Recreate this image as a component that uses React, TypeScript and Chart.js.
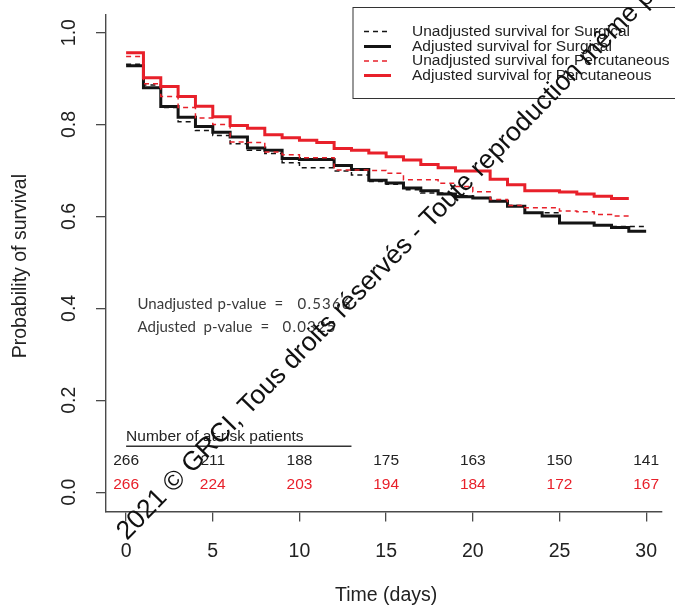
import React, { useEffect, useRef } from 'react';
import { Chart, registerables } from 'chart.js';

Chart.register(...registerables);

// ---- Data ----
const stepDays = [0, 1, 2, 3, 4, 5, 6, 7, 8, 9, 10, 11, 12, 13, 14, 15, 16, 17, 18, 19, 20, 21, 22, 23, 24, 25, 26, 27, 28, 29];

const surgicalUnadjusted = [
  0.931, 0.886, 0.837, 0.806, 0.787, 0.776, 0.758, 0.744, 0.737, 0.717,
  0.706, 0.706, 0.699, 0.690, 0.676, 0.670, 0.658, 0.651, 0.651, 0.645,
  0.640, 0.634, 0.624, 0.608, 0.608, 0.586, 0.586, 0.581, 0.578, 0.578,
];
const surgicalAdjusted = [
  0.928, 0.880, 0.839, 0.816, 0.796, 0.783, 0.773, 0.749, 0.744, 0.726,
  0.724, 0.724, 0.711, 0.702, 0.679, 0.673, 0.662, 0.656, 0.649, 0.643,
  0.640, 0.633, 0.622, 0.608, 0.601, 0.586, 0.586, 0.581, 0.576, 0.568,
];
const percutaneousUnadjusted = [
  0.948, 0.889, 0.861, 0.837, 0.814, 0.800, 0.762, 0.761, 0.740, 0.734,
  0.728, 0.728, 0.701, 0.701, 0.700, 0.694, 0.680, 0.680, 0.672, 0.665,
  0.654, 0.637, 0.624, 0.619, 0.619, 0.612, 0.610, 0.604, 0.601,
];
const percutaneousAdjusted = [
  0.956, 0.902, 0.883, 0.861, 0.840, 0.817, 0.798, 0.792, 0.778, 0.771,
  0.766, 0.761, 0.748, 0.744, 0.738, 0.730, 0.723, 0.713, 0.706, 0.699,
  0.699, 0.681, 0.669, 0.656, 0.656, 0.653, 0.649, 0.644, 0.639,
];
const surgicalEndDay = 30;
const percutaneousEndDay = 29;

const riskDays = [0, 5, 10, 15, 20, 25, 30];
const riskSurgical = [266, 211, 188, 175, 163, 150, 141];
const riskPercutaneous = [266, 224, 203, 194, 184, 172, 167];

const xTickValues = [0, 5, 10, 15, 20, 25, 30];
const yTickValues = [0, 0.2, 0.4, 0.6, 0.8, 1.0];

const legendLabels = [
  'Unadjusted survival for Surgical',
  'Adjusted survival for Surgical',
  'Unadjusted survival for Percutaneous',
  'Adjusted survival for Percutaneous',
];
const pValueLabels = ['Unadjusted', 'Adjusted'];
const pValues = ['0.5366', '0.0325'];
const watermarkText = '2021 \u00A9 GRCI, Tous droits r\u00E9serv\u00E9s - Toute reproduction m\u00EAme partielle interdite';

// ---- Styles ----
const BLACK = '#141414';
const RED = '#e8202a';
const AXIS = '#4a4a4a';
const TEXT = '#222222';
const FONT = '"Liberation Sans", Arial, sans-serif';

function stepData(values: number[], endDay: number) {
  const pts = values.map((v, i) => ({ x: stepDays[i], y: v }));
  pts.push({ x: endDay, y: values[values.length - 1] });
  return pts;
}

const overlayPlugin = {
  id: 'overlay',
  afterDraw(chart: any) {
    const { ctx, chartArea } = chart;
    const xs = chart.scales.x;
    const ys = chart.scales.y;
    ctx.save();

    // y tick labels (rotated, R style)
    ctx.fillStyle = TEXT;
    ctx.font = `19.5px ${FONT}`;
    ctx.textAlign = 'center';
    ctx.textBaseline = 'middle';
    for (const t of ys.ticks) {
      const py = ys.getPixelForValue(t.value);
      ctx.save();
      ctx.translate(70, py);
      ctx.rotate(-Math.PI / 2);
      ctx.fillText(Number(t.value).toFixed(1), 0, 0);
      ctx.restore();
    }

    // axis titles
    ctx.save();
    ctx.translate(21, (chartArea.top + chartArea.bottom) / 2 + 3);
    ctx.rotate(-Math.PI / 2);
    ctx.fillText('Probability of survival', 0, 0);
    ctx.restore();
    ctx.fillText('Time (days)', (xs.getPixelForValue(0) + xs.getPixelForValue(30)) / 2, 596);

    // at-risk table
    ctx.font = `15.5px ${FONT}`;
    ctx.textAlign = 'left';
    const x0 = xs.getPixelForValue(0);
    ctx.fillText('Number of at-risk patients', x0, ys.getPixelForValue(0.120));
    ctx.strokeStyle = '#333';
    ctx.lineWidth = 1.6;
    ctx.beginPath();
    const uy = ys.getPixelForValue(0.1);
    ctx.moveTo(x0, uy);
    ctx.lineTo(xs.getPixelForValue(13), uy);
    ctx.stroke();
    ctx.textAlign = 'center';
    riskDays.forEach((d, i) => {
      const px = xs.getPixelForValue(d);
      ctx.fillStyle = TEXT;
      ctx.fillText(String(riskSurgical[i]), px, ys.getPixelForValue(0.069));
      ctx.fillStyle = RED;
      ctx.fillText(String(riskPercutaneous[i]), px, ys.getPixelForValue(0.017));
    });

    // p-values (spaced like the reference text box)
    ctx.save();
    ctx.fillStyle = '#3a3a3a';
    ctx.font = `15px Lato, "Open Sans", sans-serif`;
    ctx.textAlign = 'left';
    ctx.textBaseline = 'middle';
    const pRows = [
      { y: 304, label: pValueLabels[0], offs: [0, 80, 137, 160] },
      { y: 327, label: pValueLabels[1], offs: [0, 66, 123, 145] },
    ];
    pRows.forEach((r, i) => {
      const left = 137.5;
      ctx.fillText(r.label, left + r.offs[0], r.y);
      ctx.fillText('p-value', left + r.offs[1], r.y);
      ctx.fillText('=', left + r.offs[2], r.y);
      let cx = left + r.offs[3];
      for (const ch of pValues[i]) {
        ctx.fillText(ch, cx, r.y);
        cx += ctx.measureText(ch).width + 1.2;
      }
    });
    ctx.restore();

    // legend
    const boxL = 353, boxT = 7.5, boxB = 98.5;
    ctx.fillStyle = '#ffffff';
    ctx.fillRect(boxL, boxT, 700 - boxL, boxB - boxT);
    ctx.strokeStyle = '#333';
    ctx.lineWidth = 1;
    ctx.strokeRect(boxL, boxT, 700 - boxL, boxB - boxT);
    const rowY = [31.5, 46.5, 61, 75.5];
    const styles = [
      { color: BLACK, width: 1.5, dash: [5, 4] },
      { color: BLACK, width: 3, dash: [] as number[] },
      { color: RED, width: 1.5, dash: [5, 4] },
      { color: RED, width: 3, dash: [] as number[] },
    ];
    ctx.font = `15.5px ${FONT}`;
    ctx.textAlign = 'left';
    ctx.textBaseline = 'middle';
    legendLabels.forEach((lab, i) => {
      const st = styles[i];
      ctx.strokeStyle = st.color;
      ctx.lineWidth = st.width;
      ctx.setLineDash(st.dash);
      ctx.beginPath();
      ctx.moveTo(364, rowY[i]);
      ctx.lineTo(391, rowY[i]);
      ctx.stroke();
      ctx.setLineDash([]);
      ctx.fillStyle = TEXT;
      ctx.fillText(lab, 412, rowY[i]);
    });

    // watermark
    ctx.save();
    ctx.translate(127, 541);
    ctx.rotate((-45.8 * Math.PI) / 180);
    ctx.fillStyle = '#111';
    ctx.font = `26.5px ${FONT}`;
    ctx.textAlign = 'left';
    ctx.textBaseline = 'alphabetic';
    ctx.fillText(watermarkText, 0, 0);
    ctx.restore();

    ctx.restore();
  },
};

export default function App() {
  const canvasRef = useRef<HTMLCanvasElement | null>(null);

  useEffect(() => {
    if (!canvasRef.current) return;
    const chart = new Chart(canvasRef.current, {
      type: 'line',
      data: {
        datasets: [
          {
            label: legendLabels[3],
            data: stepData(percutaneousAdjusted, percutaneousEndDay),
            borderColor: RED,
            borderWidth: 3,
            stepped: true,
            pointRadius: 0,
            fill: false,
          },
          {
            label: legendLabels[2],
            data: stepData(percutaneousUnadjusted, percutaneousEndDay),
            borderColor: RED,
            borderWidth: 1.5,
            borderDash: [5, 4],
            stepped: true,
            pointRadius: 0,
            fill: false,
          },
          {
            label: legendLabels[1],
            data: stepData(surgicalAdjusted, surgicalEndDay),
            borderColor: BLACK,
            borderWidth: 3,
            stepped: true,
            pointRadius: 0,
            fill: false,
          },
          {
            label: legendLabels[0],
            data: stepData(surgicalUnadjusted, surgicalEndDay),
            borderColor: BLACK,
            borderWidth: 1.5,
            borderDash: [5, 4],
            stepped: true,
            pointRadius: 0,
            fill: false,
          },
        ],
      },
      options: {
        responsive: false,
        animation: false,
        layout: { padding: { top: 8, left: 0, right: 0, bottom: 0 } },
        plugins: { legend: { display: false }, tooltip: { enabled: false } },
        scales: {
          x: {
            type: 'linear',
            min: -1.16,
            max: 30.9,
            afterBuildTicks: (scale: any) => {
              scale.ticks = xTickValues.map((v) => ({ value: v }));
            },
            afterFit: (scale: any) => {
              scale.height = 98.5;
            },
            grid: { drawOnChartArea: false, drawTicks: true, tickLength: 10, color: AXIS, lineWidth: 1.3 },
            border: { display: true, color: AXIS, width: 1.4 },
            ticks: {
              autoSkip: false,
              maxRotation: 0,
              minRotation: 0,
              padding: 18,
              color: TEXT,
              font: { family: FONT, size: 19.5 },
              callback: (v: any) => String(v),
            },
          },
          y: {
            type: 'linear',
            min: -0.042,
            max: 1.039,
            afterBuildTicks: (scale: any) => {
              scale.ticks = yTickValues.map((v) => ({ value: v }));
            },
            afterFit: (scale: any) => {
              scale.width = 106;
            },
            grid: { drawOnChartArea: false, drawTicks: true, tickLength: 10, color: AXIS, lineWidth: 1.3 },
            border: { display: true, color: AXIS, width: 1.4 },
            ticks: { color: 'rgba(0,0,0,0)', font: { family: FONT, size: 19.5 } },
          },
        },
      },
      plugins: [overlayPlugin],
    });
    return () => chart.destroy();
  }, []);

  return (
    <div style={{ position: 'absolute', left: 0, top: 0, width: 675, height: 610, background: '#fff' }}>
      <canvas ref={canvasRef} width={675} height={610} style={{ width: 675, height: 610 }} />
    </div>
  );
}
